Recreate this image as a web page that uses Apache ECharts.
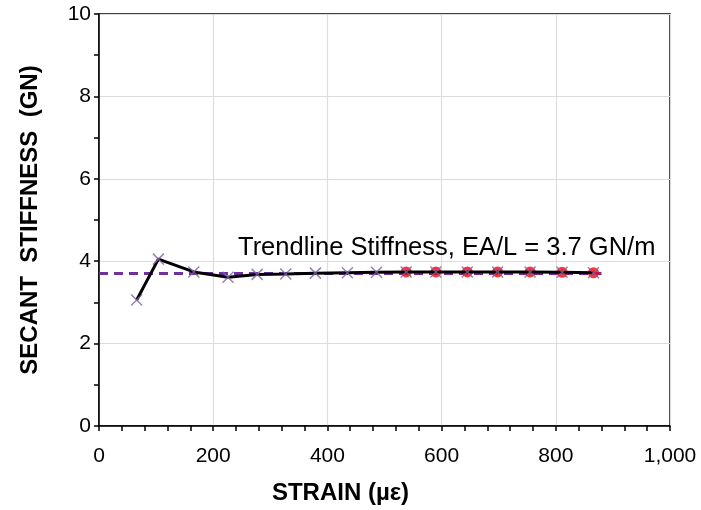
<!DOCTYPE html>
<html>
<head>
<meta charset="utf-8">
<script src="https://cdn.jsdelivr.net/npm/echarts@6/dist/echarts.min.js"></script>
<style>
html,body{margin:0;padding:0;background:#fff;}
#chart{width:701px;height:510px;}
</style>
</head>
<body>
<div id="chart"></div>
<script>
// Data
var strain = [66, 104, 166, 226, 277, 327, 379, 435, 486, 538, 590, 645, 698, 755, 811, 866];
var stiffness = [3.06, 4.05, 3.74, 3.61, 3.68, 3.69, 3.71, 3.72, 3.73, 3.74, 3.74, 3.74, 3.74, 3.74, 3.73, 3.72];
var redStrain = [538, 590, 645, 698, 755, 811, 866];
var redStiffness = [3.74, 3.74, 3.74, 3.74, 3.74, 3.73, 3.72];
var trendValue = 3.7;
var trendStrain = [0, 880];
var xTicks = [0, 200, 400, 600, 800, 1000];
var yTicks = [0, 2, 4, 6, 8, 10];
var annotation = 'Trendline Stiffness, EA/L = 3.7 GN/m';

var FONT = "'Liberation Sans', Arial, sans-serif";
var pts = strain.map(function (s, i) { return [s, stiffness[i]]; });
var redPts = redStrain.map(function (s, i) { return [s, redStiffness[i]]; });
var trendPts = trendStrain.map(function (s) { return [s, trendValue]; });

var chart = echarts.init(document.getElementById('chart'), null, {renderer: 'canvas'});
chart.setOption({
  animation: false,
  backgroundColor: '#ffffff',
  grid: {left: 99, right: 31, top: 14, bottom: 84, show: true, borderColor: '#000', borderWidth: 1.5, backgroundColor: 'transparent'},
  xAxis: {
    type: 'value', min: xTicks[0], max: xTicks[xTicks.length - 1], interval: 200,
    name: 'STRAIN (µε)', nameLocation: 'middle', nameGap: 55,
    nameTextStyle: {fontFamily: FONT, fontSize: 24, fontWeight: 'bold', color: '#000', letterSpacing: 1, padding: [0, 88, 0, 0]},
    axisLine: {show: true, onZero: false, lineStyle: {color: '#000', width: 1.5}},
    axisTick: {show: true, inside: false, length: 5, lineStyle: {color: '#000', width: 1.5}},
    minorTick: {show: true, splitNumber: 5, length: 5, lineStyle: {color: '#000', width: 1.5}},
    axisLabel: {fontFamily: FONT, fontSize: 21, color: '#000', margin: 20,
      formatter: function (v) { return v.toLocaleString('en-US'); }},
    splitLine: {show: true, lineStyle: {color: '#dcdcdc', width: 1.2}}
  },
  yAxis: {
    type: 'value', min: yTicks[0], max: yTicks[yTicks.length - 1], interval: 2,
    name: 'SECANT  STIFFNESS  (GN)', nameLocation: 'middle', nameGap: 57,
    nameTextStyle: {fontFamily: FONT, fontSize: 24, fontWeight: 'bold', color: '#000', letterSpacing: 0.6},
    axisLine: {show: true, onZero: false, lineStyle: {color: '#000', width: 1.5}},
    axisTick: {show: true, inside: false, length: 5, lineStyle: {color: '#000', width: 1.5}},
    minorTick: {show: true, splitNumber: 2, length: 5, lineStyle: {color: '#000', width: 1.5}},
    axisLabel: {fontFamily: FONT, fontSize: 21, color: '#000', margin: 8},
    splitLine: {show: true, lineStyle: {color: '#dcdcdc', width: 1.2}}
  },
  series: [
    {
      type: 'line', data: trendPts, symbol: 'none', z: 2,
      lineStyle: {color: '#7030A0', width: 3, type: [9, 6]}
    },
    {
      type: 'scatter', data: redPts, symbol: 'circle', symbolSize: 11, z: 3,
      itemStyle: {color: '#ff0000'}
    },
    {
      type: 'line', data: pts, symbol: 'none', z: 4,
      lineStyle: {color: '#000', width: 3}
    },
    {
      type: 'scatter', data: pts, z: 5,
      symbol: 'path://M0,0L10,10M10,0L0,10', symbolSize: 11,
      itemStyle: {color: 'none', borderColor: '#7F62A8', borderWidth: 1.5}
    }
  ],
  graphic: [{
    type: 'text', z: 10,
    style: {text: annotation, x: 238, y: 248, textVerticalAlign: 'middle',
      font: '25.5px ' + FONT, fill: '#000'}
  }]
});
</script>
</body>
</html>
